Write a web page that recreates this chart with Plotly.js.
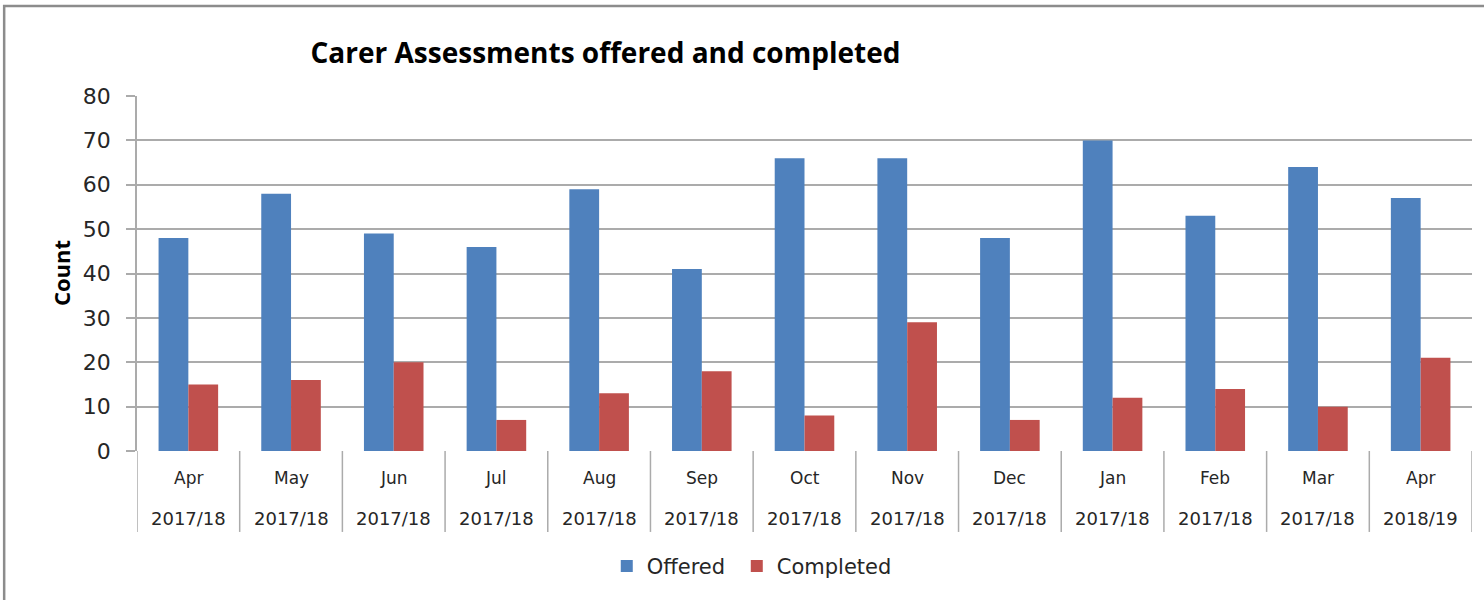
<!DOCTYPE html>
<html>
<head>
<meta charset="utf-8">
<script src="https://cdn.plot.ly/plotly-3.0.1.min.js"></script>
<style>
  html, body { margin: 0; padding: 0; background: #fff; }
  #graph { width: 1484px; height: 600px; }
</style>
</head>
<body>
<div id="graph"></div>
<script>
var months = ["Apr", "May", "Jun", "Jul", "Aug", "Sep", "Oct", "Nov", "Dec", "Jan", "Feb", "Mar", "Apr"];
var years = ["2017/18", "2017/18", "2017/18", "2017/18", "2017/18", "2017/18", "2017/18",
             "2017/18", "2017/18", "2017/18", "2017/18", "2017/18", "2018/19"];
var offered = [48, 58, 49, 46, 59, 41, 66, 66, 48, 70, 53, 64, 57];
var completed = [15, 16, 20, 7, 13, 18, 8, 29, 7, 12, 14, 10, 21];

var idx = months.map(function(m, i) { return i; });
var lineCol = "#ababab";
var txtCol = "#262626";
var tickFont = "DejaVu Sans, sans-serif";

var trace_offered = {
  x: idx, y: offered, type: "bar", name: "Offered&nbsp;",
  marker: { color: "#4f81bd" }
};
var trace_completed = {
  x: idx, y: completed, type: "bar", name: "Completed",
  marker: { color: "#c0504d" }
};

// month / year labels under each bar pair, plus the box dividers
var annotations = [];
var shapes = [];
for (var i = 0; i < months.length; i++) {
  annotations.push({
    x: i, y: -0.075, xref: "x", yref: "paper", text: months[i], showarrow: false,
    yanchor: "middle", font: { family: tickFont, size: 17, color: txtCol }
  });
  annotations.push({
    x: i, y: -0.19, xref: "x", yref: "paper", text: years[i], showarrow: false,
    yanchor: "middle", font: { family: tickFont, size: 18, color: txtCol }
  });
}
for (var j = 0; j <= months.length; j++) {
  shapes.push({
    type: "line", xref: "x", yref: "paper", x0: j - 0.5, x1: j - 0.5, y0: 0, y1: -0.228,
    line: { color: lineCol, width: 1.5 }
  });
}
// y axis title
annotations.push({
  x: -0.07, y: 0.5, xref: "paper", yref: "paper", text: "<b>Count</b>", showarrow: false,
  textangle: -90, font: { family: "Open Sans, sans-serif", size: 22, color: "#000" }
});
// outer chart frame
shapes.push({
  type: "rect", xref: "paper", yref: "paper", x0: -0.0995, x1: 1.2, y0: -0.6, y1: 1.2535,
  line: { color: "#8c8c8c", width: 2.5 }, fillcolor: "rgba(0,0,0,0)"
});

var layout = {
  width: 1484, height: 600,
  margin: { l: 137, r: 12, t: 96, b: 149 },
  paper_bgcolor: "#fff", plot_bgcolor: "#fff",
  title: {
    text: "<b>Carer Assessments offered and completed</b>",
    x: 0.408, xanchor: "center", xref: "container",
    y: 0.912, yanchor: "middle", yref: "container",
    font: { family: "Open Sans, sans-serif", size: 28, color: "#000" }
  },
  barmode: "group",
  bargap: 0.42,
  bargroupgap: 0,
  xaxis: {
    range: [-0.5, 12.5], showticklabels: false, showgrid: false, zeroline: false,
    showline: false, ticks: ""
  },
  yaxis: {
    range: [0, 80], dtick: 10, showline: true, linecolor: lineCol, linewidth: 1.5,
    gridcolor: lineCol, gridwidth: 1.5, zeroline: false,
    ticks: "outside", ticklen: 9, tickcolor: lineCol, tickwidth: 1.5,
    ticklabelstandoff: 11,
    tickfont: { family: tickFont, size: 22, color: txtCol }
  },
  showlegend: true,
  legend: {
    orientation: "h", x: 0.4605, xanchor: "center", y: -0.325, yanchor: "middle",
    font: { family: tickFont, size: 21, color: txtCol }, itemwidth: 30
  },
  annotations: annotations,
  shapes: shapes
};

Plotly.newPlot("graph", [trace_offered, trace_completed], layout, { displayModeBar: false });
</script>
</body>
</html>
